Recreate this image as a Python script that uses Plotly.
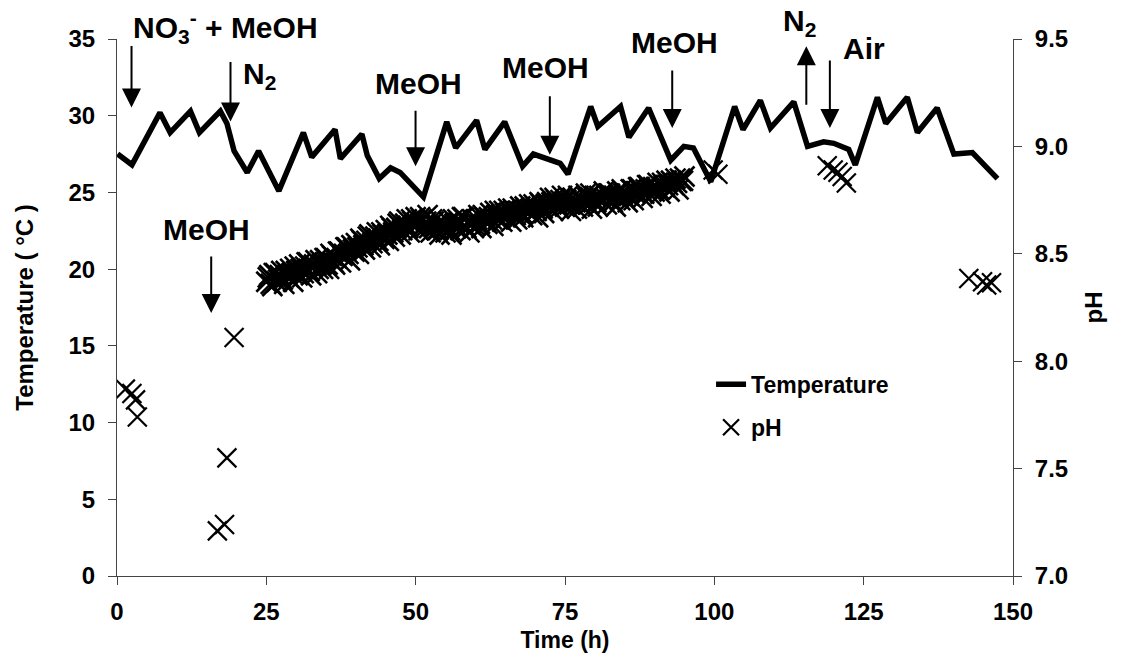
import plotly.graph_objects as go

# ---------------- data ----------------
temp_time = [0.1, 2.5, 7.2, 8.9, 12.3, 13.8, 17.3, 18.4, 19.6, 21.8, 23.7, 27.1, 31.2, 32.6,
             36.5, 37.4, 41.0, 41.9, 43.9, 45.8, 47.4, 51.3, 55.2, 56.7, 60.2, 61.6, 64.9,
             67.9, 69.7, 72.0, 74.2, 75.5, 79.3, 80.5, 84.3, 85.7, 89.0, 92.7, 94.9, 96.5,
             99.4, 103.4, 104.8, 107.7, 109.4, 113.3, 115.6, 118.3, 120.0, 122.5, 123.6,
             127.3, 128.7, 132.3, 134.0, 137.3, 140.1, 143.2, 144.9, 147.4]
temp_vals = [27.5, 26.8, 30.2, 28.9, 30.3, 28.9, 30.3, 29.5, 27.7, 26.3, 27.7, 25.1, 28.9, 27.3,
             29.1, 27.2, 28.8, 27.4, 25.9, 26.6, 26.3, 24.7, 29.6, 27.9, 29.7, 27.8, 29.6,
             26.7, 27.5, 27.2, 26.9, 26.2, 30.6, 29.3, 30.6, 28.6, 30.5, 27.1, 28.0, 27.9,
             25.7, 30.6, 29.1, 31.0, 29.2, 30.9, 28.0, 28.3, 28.2, 27.8, 26.8,
             31.2, 29.5, 31.2, 28.9, 30.5, 27.5, 27.6, 26.9, 25.9]

early_time = [1.4, 2.5, 3.1, 3.4, 16.8, 18.0, 18.4, 19.6]
early_ph = [7.87, 7.85, 7.82, 7.74, 7.21, 7.24, 7.55, 8.11]

# dense pH readings (on the hour / half hour)
band_time_a = [25.0, 25.5, 26.0, 26.5, 27.0, 27.5, 28.0, 28.5, 29.0, 29.5,
               30.0, 30.5, 31.0, 31.5, 32.0, 32.5, 33.0, 33.5, 34.0, 34.5,
               35.0, 35.5, 36.0, 36.5, 37.0, 37.5, 38.0, 38.5, 39.0, 39.5,
               40.0, 40.5, 41.0, 41.5, 42.0, 42.5, 43.0, 43.5, 44.0, 44.5,
               45.0, 45.5, 46.0, 46.5, 47.0, 47.5, 48.0, 48.5, 49.0, 49.5,
               50.0, 50.5, 51.0, 51.5, 52.0, 52.5, 53.0, 53.5, 54.0, 54.5,
               55.0, 55.5, 56.0, 56.5, 57.0, 57.5, 58.0, 58.5, 59.0, 59.5,
               60.0, 60.5, 61.0, 61.5, 62.0, 62.5, 63.0, 63.5, 64.0, 64.5,
               65.0, 65.5, 66.0, 66.5, 67.0, 67.5, 68.0, 68.5, 69.0, 69.5,
               70.0, 70.5, 71.0, 71.5, 72.0, 72.5, 73.0, 73.5, 74.0, 74.5,
               75.0, 75.5, 76.0, 76.5, 77.0, 77.5, 78.0, 78.5, 79.0, 79.5,
               80.0, 80.5, 81.0, 81.5, 82.0, 82.5, 83.0, 83.5, 84.0, 84.5,
               85.0, 85.5, 86.0, 86.5, 87.0, 87.5, 88.0, 88.5, 89.0, 89.5,
               90.0, 90.5, 91.0, 91.5, 92.0, 92.5, 93.0, 93.5, 94.0, 94.5,
               95.0]
band_ph_a = [8.37, 8.40, 8.35, 8.41, 8.38, 8.42, 8.36, 8.40, 8.43, 8.37,
             8.42, 8.45, 8.39, 8.44, 8.46, 8.40, 8.45, 8.41, 8.47, 8.43,
             8.48, 8.43, 8.49, 8.45, 8.51, 8.46, 8.50, 8.53, 8.47, 8.52,
             8.55, 8.50, 8.56, 8.52, 8.58, 8.53, 8.57, 8.60, 8.54, 8.59,
             8.61, 8.56, 8.62, 8.58, 8.64, 8.59, 8.63, 8.66, 8.60, 8.65,
             8.67, 8.61, 8.66, 8.62, 8.68, 8.60, 8.65, 8.61, 8.59, 8.64,
             8.60, 8.65, 8.59, 8.64, 8.66, 8.61, 8.67, 8.62, 8.60, 8.66,
             8.63, 8.68, 8.62, 8.67, 8.64, 8.69, 8.63, 8.68, 8.70, 8.65,
             8.69, 8.71, 8.65, 8.70, 8.66, 8.72, 8.67, 8.71, 8.73, 8.68,
             8.72, 8.67, 8.73, 8.69, 8.74, 8.76, 8.70, 8.75, 8.71, 8.77,
             8.72, 8.77, 8.70, 8.75, 8.71, 8.76, 8.72, 8.78, 8.73, 8.71,
             8.77, 8.72, 8.76, 8.79, 8.73, 8.78, 8.74, 8.72, 8.77, 8.80,
             8.76, 8.74, 8.80, 8.75, 8.79, 8.81, 8.76, 8.80, 8.82, 8.77,
             8.79, 8.83, 8.78, 8.82, 8.84, 8.79, 8.83, 8.85, 8.80, 8.84,
             8.86]

# dense pH readings (quarter past / quarter to)
band_time_b = [25.25, 25.75, 26.25, 26.75, 27.25, 27.75, 28.25, 28.75, 29.25, 29.75,
               30.25, 30.75, 31.25, 31.75, 32.25, 32.75, 33.25, 33.75, 34.25, 34.75,
               35.25, 35.75, 36.25, 36.75, 37.25, 37.75, 38.25, 38.75, 39.25, 39.75,
               40.25, 40.75, 41.25, 41.75, 42.25, 42.75, 43.25, 43.75, 44.25, 44.75,
               45.25, 45.75, 46.25, 46.75, 47.25, 47.75, 48.25, 48.75, 49.25, 49.75,
               50.25, 50.75, 51.25, 51.75, 52.25, 52.75, 53.25, 53.75, 54.25, 54.75,
               55.25, 55.75, 56.25, 56.75, 57.25, 57.75, 58.25, 58.75, 59.25, 59.75,
               60.25, 60.75, 61.25, 61.75, 62.25, 62.75, 63.25, 63.75, 64.25, 64.75,
               65.25, 65.75, 66.25, 66.75, 67.25, 67.75, 68.25, 68.75, 69.25, 69.75,
               70.25, 70.75, 71.25, 71.75, 72.25, 72.75, 73.25, 73.75, 74.25, 74.75,
               75.25, 75.75, 76.25, 76.75, 77.25, 77.75, 78.25, 78.75, 79.25, 79.75,
               80.25, 80.75, 81.25, 81.75, 82.25, 82.75, 83.25, 83.75, 84.25, 84.75,
               85.25, 85.75, 86.25, 86.75, 87.25, 87.75, 88.25, 88.75, 89.25, 89.75,
               90.25, 90.75, 91.25, 91.75, 92.25, 92.75, 93.25, 93.75, 94.25, 94.75]
band_ph_b = [8.39, 8.36, 8.41, 8.37, 8.40, 8.38, 8.42, 8.39, 8.41, 8.44,
             8.40, 8.43, 8.41, 8.46, 8.42, 8.44, 8.47, 8.43, 8.45, 8.48,
             8.45, 8.50, 8.46, 8.48, 8.51, 8.49, 8.53, 8.50, 8.54, 8.51,
             8.53, 8.57, 8.54, 8.56, 8.59, 8.55, 8.58, 8.56, 8.60, 8.57,
             8.59, 8.63, 8.60, 8.62, 8.65, 8.61, 8.64, 8.62, 8.66, 8.63,
             8.64, 8.67, 8.63, 8.65, 8.62, 8.66, 8.63, 8.61, 8.65, 8.62,
             8.63, 8.61, 8.66, 8.62, 8.64, 8.67, 8.63, 8.65, 8.64, 8.62,
             8.66, 8.64, 8.68, 8.65, 8.67, 8.66, 8.70, 8.66, 8.68, 8.70,
             8.67, 8.69, 8.71, 8.68, 8.70, 8.69, 8.72, 8.70, 8.71, 8.73,
             8.70, 8.74, 8.71, 8.73, 8.72, 8.74, 8.76, 8.73, 8.75, 8.74,
             8.75, 8.73, 8.76, 8.74, 8.77, 8.75, 8.74, 8.76, 8.78, 8.75,
             8.74, 8.77, 8.75, 8.76, 8.78, 8.75, 8.77, 8.79, 8.75, 8.78,
             8.78, 8.77, 8.80, 8.78, 8.81, 8.79, 8.78, 8.82, 8.80, 8.81,
             8.81, 8.80, 8.83, 8.81, 8.82, 8.84, 8.82, 8.83, 8.85, 8.84]

late_time = [99.8, 100.6, 118.9, 119.9, 120.7, 121.4, 122.1, 142.6, 144.9, 145.6, 146.4]
late_ph = [8.89, 8.87, 8.91, 8.89, 8.88, 8.86, 8.83, 8.385, 8.37, 8.355, 8.365]

sparse_time = early_time + late_time
sparse_ph = early_ph + late_ph
band_time = band_time_a + band_time_b
band_ph = band_ph_a + band_ph_b

x_ticks = [0, 25, 50, 75, 100, 125, 150]
temp_ticks = [0, 5, 10, 15, 20, 25, 30, 35]
ph_ticks = [7.0, 7.5, 8.0, 8.5, 9.0, 9.5]

# event labels: (label, x in hours, y in paper fraction)
event_labels = [
    ("NO<sub>3</sub><sup>-</sup> + MeOH", 18.2, 1.023),
    ("N<sub>2</sub>", 23.9, 0.932),
    ("MeOH", 14.95, 0.646),
    ("MeOH", 50.53, 0.918),
    ("MeOH", 71.74, 0.946),
    ("MeOH", 93.34, 0.993),
    ("N<sub>2</sub>", 114.3, 1.03),
    ("Air", 125.1, 0.983),
]
# event arrows: (tip time, tip temperature, tail offset in px)
event_arrows = [
    (2.43, 30.53, -63),
    (19.0, 29.63, -61),
    (15.77, 17.14, -58),
    (49.98, 26.70, -57),
    (72.46, 27.46, -60),
    (92.95, 29.20, -59),
    (115.4, 34.53, 60),
    (119.34, 29.20, -69),
]

FONT = "Liberation Sans, Arial, sans-serif"

fig = go.Figure()
fig.add_trace(go.Scatter(
    x=temp_time, y=temp_vals, mode="lines", name="Temperature",
    line=dict(color="black", width=5.5), legendgroup="a",
))
fig.add_trace(go.Scatter(
    x=sparse_time, y=sparse_ph, mode="markers", name="pH", yaxis="y2",
    marker=dict(symbol="x-thin", size=19, color="black",
                line=dict(color="black", width=2.2)),
    legendgroup="b",
))
fig.add_trace(go.Scatter(
    x=band_time, y=band_ph, mode="markers", name="pH", yaxis="y2",
    marker=dict(symbol="x-thin", size=20, color="black",
                line=dict(color="black", width=2.6)),
    legendgroup="b", showlegend=False,
))

annotations = []
for label, lt, ly in event_labels:
    annotations.append(dict(
        x=lt, y=ly, xref="x", yref="paper", text=label, showarrow=False,
        font=dict(family=FONT, size=30, color="black", weight="bold"),
        xanchor="center", yanchor="middle",
    ))
for at, aT, dy in event_arrows:
    annotations.append(dict(
        x=at, y=aT, xref="x", yref="y", text="", showarrow=True,
        ax=0, ay=dy, arrowhead=2, arrowsize=1.9, arrowwidth=2,
        arrowcolor="black", standoff=0, startstandoff=0,
    ))

axis_common = dict(
    showgrid=False, zeroline=False, showline=True, linecolor="#444", linewidth=1,
    ticks="outside", ticklen=8, tickcolor="#444", tickwidth=1,
    tickfont=dict(family=FONT, size=24, color="black", weight="bold"),
)

fig.update_layout(
    width=1124, height=663,
    margin=dict(l=117, r=111, t=39, b=87),
    paper_bgcolor="white", plot_bgcolor="white",
    font=dict(family=FONT, size=24, color="black", weight="bold"),
    xaxis=dict(range=[0, 150], tickvals=x_ticks, ticklabelstandoff=6,
               title=dict(text="Time (h)", standoff=8,
                          font=dict(family=FONT, size=23, weight="bold")),
               **axis_common),
    yaxis=dict(range=[0, 35], tickvals=temp_ticks, ticklabelstandoff=8,
               title=dict(text="Temperature ( °C )", standoff=28,
                          font=dict(family=FONT, size=24, weight="bold")),
               **axis_common),
    yaxis2=dict(range=[7, 9.5], tickvals=ph_ticks, tickformat=".1f", overlaying="y",
                side="right", ticklabelstandoff=8,
                title=dict(text="pH", standoff=18,
                           font=dict(family=FONT, size=24, weight="bold")),
                **axis_common),
    legend=dict(x=0.663, y=0.397, xanchor="left", yanchor="top",
                bgcolor="rgba(0,0,0,0)", tracegroupgap=10,
                font=dict(family=FONT, size=23, color="black", weight="bold")),
    annotations=annotations,
    showlegend=True,
)

fig.write_html("out.html")
